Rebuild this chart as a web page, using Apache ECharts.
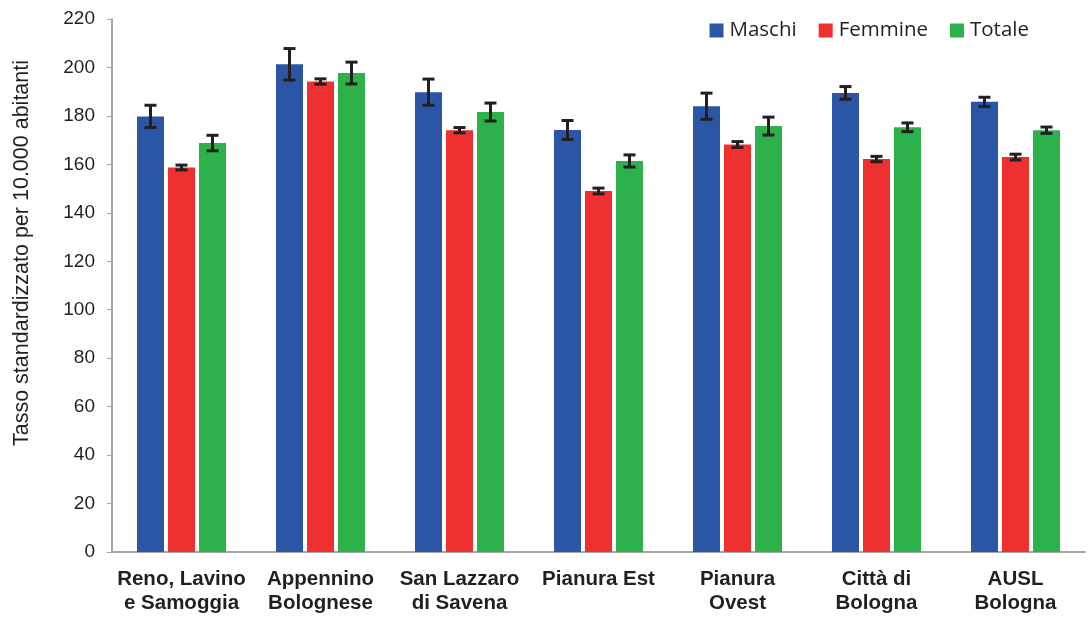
<!DOCTYPE html>
<html><head><meta charset="utf-8">
<script src="https://cdn.jsdelivr.net/npm/echarts@6/dist/echarts.min.js"></script>
<style>html,body{margin:0;padding:0;background:#fff}#c{width:1091px;height:617px}</style>
</head><body><div id="c"></div>
<script>
const categories = ["Reno, Lavino\ne Samoggia","Appennino\nBolognese","San Lazzaro\ndi Savena","Pianura Est","Pianura\nOvest","Città di\nBologna","AUSL\nBologna"];
const seriesNames = ["Maschi","Femmine","Totale"];
const maschi  = [179.8, 201.3, 189.8, 174.2, 184.0, 189.5, 185.8];
const femmine = [158.7, 194.2, 174.1, 149.0, 168.2, 162.2, 163.0];
const totale  = [168.8, 197.7, 181.6, 161.4, 175.8, 175.3, 174.1];
const errMaschi  = [4.6, 6.5, 5.4, 3.9, 5.4, 2.6, 1.9];
const errFemmine = [1.0, 1.1, 1.1, 1.2, 1.2, 1.1, 1.2];
const errTotale  = [3.2, 4.5, 3.7, 2.5, 3.7, 1.8, 1.3];
const yTicks = [0,20,40,60,80,100,120,140,160,180,200,220];
const yTitle = 'Tasso standardizzato per 10.000 abitanti';

const colors = ["#2a56a5","#ee3030","#2db14a"];
const values = [maschi, femmine, totale];
const errs = [errMaschi, errFemmine, errTotale];
const BW = 27, GAP = 4;

const chart = echarts.init(document.getElementById('c'));
const series = [];
values.forEach((v,i)=>{
  series.push({name: seriesNames[i], type:'bar', data:v, barWidth:BW, barGap:(GAP/BW*100)+'%',
    itemStyle:{color:colors[i]}});
});
values.forEach((v,i)=>{
  series.push({type:'custom', silent:true, z:10,
    data: v.map((val,k)=>[k, val-errs[i][k], val+errs[i][k]]),
    renderItem:function(params, api){
      const off = (i-1)*(BW+GAP);
      const lo = api.coord([api.value(0), api.value(1)]);
      const hi = api.coord([api.value(0), api.value(2)]);
      const x = lo[0] + off, hw = 6;
      const st = {stroke:'#231f20', lineWidth:3};
      return {type:'group', children:[
        {type:'line', shape:{x1:x,y1:lo[1],x2:x,y2:hi[1]}, style:st},
        {type:'line', shape:{x1:x-hw,y1:lo[1],x2:x+hw,y2:lo[1]}, style:st},
        {type:'line', shape:{x1:x-hw,y1:hi[1],x2:x+hw,y2:hi[1]}, style:st}
      ]};
    }});
});

chart.setOption({
  animation:false,
  grid:{left:112, right:6, top:19, bottom:65},
  legend:{data:seriesNames, top:15, right:57, itemWidth:14, itemHeight:14, itemGap:22,
    icon:'rect', textStyle:{fontFamily:'Open Sans', fontSize:20.5, color:'#231f20', padding:[0,0,0,1]}},
  graphic:[{type:'text', x:22, y:253, rotation:Math.PI/2,
    style:{text:yTitle, fontFamily:'Liberation Sans', fontSize:21.5, fill:'#231f20', align:'center', verticalAlign:'middle'}}],
  xAxis:{type:'category', data:categories,
    axisLine:{lineStyle:{color:'#a6a6a6', width:2}}, axisTick:{show:false},
    axisLabel:{interval:0, fontFamily:'Liberation Sans', fontWeight:'bold', fontSize:20.5, lineHeight:24, color:'#231f20', margin:15}},
  yAxis:{type:'value', min:yTicks[0], max:yTicks[yTicks.length-1], interval:20,
    axisLine:{show:true, lineStyle:{color:'#a6a6a6', width:2}},
    axisTick:{show:true, length:5, lineStyle:{color:'#a6a6a6'}},
    splitLine:{show:false},
    axisLabel:{fontFamily:'Liberation Sans', fontSize:19, color:'#231f20', margin:17}},
  series:series
});
</script></body></html>
